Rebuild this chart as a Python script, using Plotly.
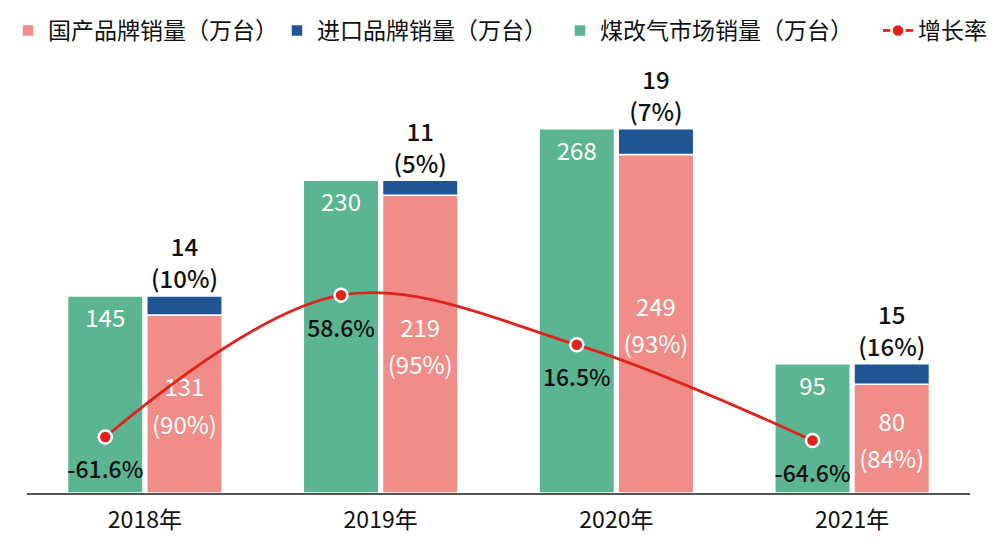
import plotly.graph_objects as go

years = ["2018年", "2019年", "2020年", "2021年"]
domestic = [131, 219, 249, 80]
domestic_share = ["90%", "95%", "93%", "84%"]
imported = [14, 11, 19, 15]
imported_share = ["10%", "5%", "7%", "16%"]
coal_to_gas = [145, 230, 268, 95]
growth = [-61.6, 58.6, 16.5, -64.6]

GREEN = "#5bb593"
PINK = "#f08d88"
BLUE = "#1f5594"
RED = "#e0221c"
DARK = "#111111"
FONT = "Noto Sans CJK SC"

idx = list(range(len(years)))
off = 0.168
bw = 0.32
x_left = [i - off for i in idx]
x_right = [i + off for i in idx]
pink_mid = [d / 2 for d in domestic]
stack_top = [d + m for d, m in zip(domestic, imported)]

fig = go.Figure()

fig.add_trace(go.Bar(
    name="国产品牌销量（万台）", x=x_right, y=domestic, width=bw, legend="legend",
    marker=dict(color=PINK, line=dict(color="white", width=1.5)),
    hoverinfo="skip",
))
fig.add_trace(go.Bar(
    name="进口品牌销量（万台）", x=x_right, y=imported, base=domestic, width=bw,
    legend="legend2",
    marker=dict(color=BLUE, line=dict(color="white", width=1.5)),
    hoverinfo="skip",
))
fig.add_trace(go.Bar(
    name="煤改气市场销量（万台）", x=x_left, y=coal_to_gas, width=bw,
    legend="legend3",
    marker=dict(color=GREEN, line=dict(color="white", width=1.5)),
    text=[str(v) for v in coal_to_gas],
    textposition="inside", insidetextanchor="end",
    textfont=dict(color="white", size=24, family=FONT),
    hoverinfo="skip",
))
fig.add_trace(go.Scatter(
    name="增长率", x=x_left, y=growth, yaxis="y2", legend="legend4",
    mode="lines+markers",
    line=dict(color=RED, width=2.8, shape="spline", smoothing=1.0),
    marker=dict(color=RED, size=13, line=dict(color="white", width=2.5)),
    cliponaxis=False, hoverinfo="skip",
))


def label(x, y, text, pos, size, color, font_size, weight=400, yaxis="y"):
    fig.add_trace(go.Scatter(
        x=x, y=y, yaxis=yaxis, mode="markers+text", showlegend=False,
        marker=dict(size=size, opacity=0),
        text=text, textposition=pos,
        textfont=dict(color=color, size=font_size, family=FONT, weight=weight),
        cliponaxis=False, hoverinfo="skip",
    ))


# domestic labels (value over share), centred in the pink bars
label(x_right, pink_mid, [str(v) for v in domestic], "top center", 1, "white", 24)
label(x_right, pink_mid, [f"({s})" for s in domestic_share], "bottom center", 17, "white", 24)
# imported labels (value over share) above the stacks
label(x_right, stack_top, [str(v) for v in imported], "top center", 52, DARK, 24, 500)
label(x_right, stack_top, [f"({s})" for s in imported_share], "top center", 1, DARK, 24, 500)
# growth-rate labels below the points
label(x_left, growth, [f"{g:.1f}%" for g in growth], "bottom center", 37, DARK, 23, 500, "y2")

W, H = 992, 544
leg_common = dict(
    orientation="h", xref="container", xanchor="left",
    y=1 - 1 / H, yref="container", yanchor="top",
    font=dict(size=23, family=FONT, color=DARK),
    itemwidth=30, bgcolor="rgba(0,0,0,0)",
)
fig.update_layout(
    width=W, height=H,
    margin=dict(l=19, r=30, t=50, b=59, autoexpand=False),
    paper_bgcolor="white", plot_bgcolor="white",
    barmode="overlay",
    font=dict(family=FONT, color=DARK),
    showlegend=True,
    legend=dict(x=-13 / W, **leg_common),
    legend2=dict(x=269 / W, **leg_common),
    legend3=dict(x=552 / W, **leg_common),
    legend4=dict(x=870 / W, **leg_common),
    xaxis=dict(
        range=[-0.5, 3.5], tickvals=idx, ticktext=years,
        showgrid=False, zeroline=False,
        showline=True, linecolor="#555555", linewidth=2,
        ticks="", ticklabelstandoff=5,
        tickfont=dict(size=23, color=DARK, family=FONT),
    ),
    yaxis=dict(range=[0, 320], visible=False, showgrid=False, zeroline=False),
    yaxis2=dict(range=[-109.1, 259.6], overlaying="y", visible=False,
                showgrid=False, zeroline=False),
)

fig.write_html("out.html")
